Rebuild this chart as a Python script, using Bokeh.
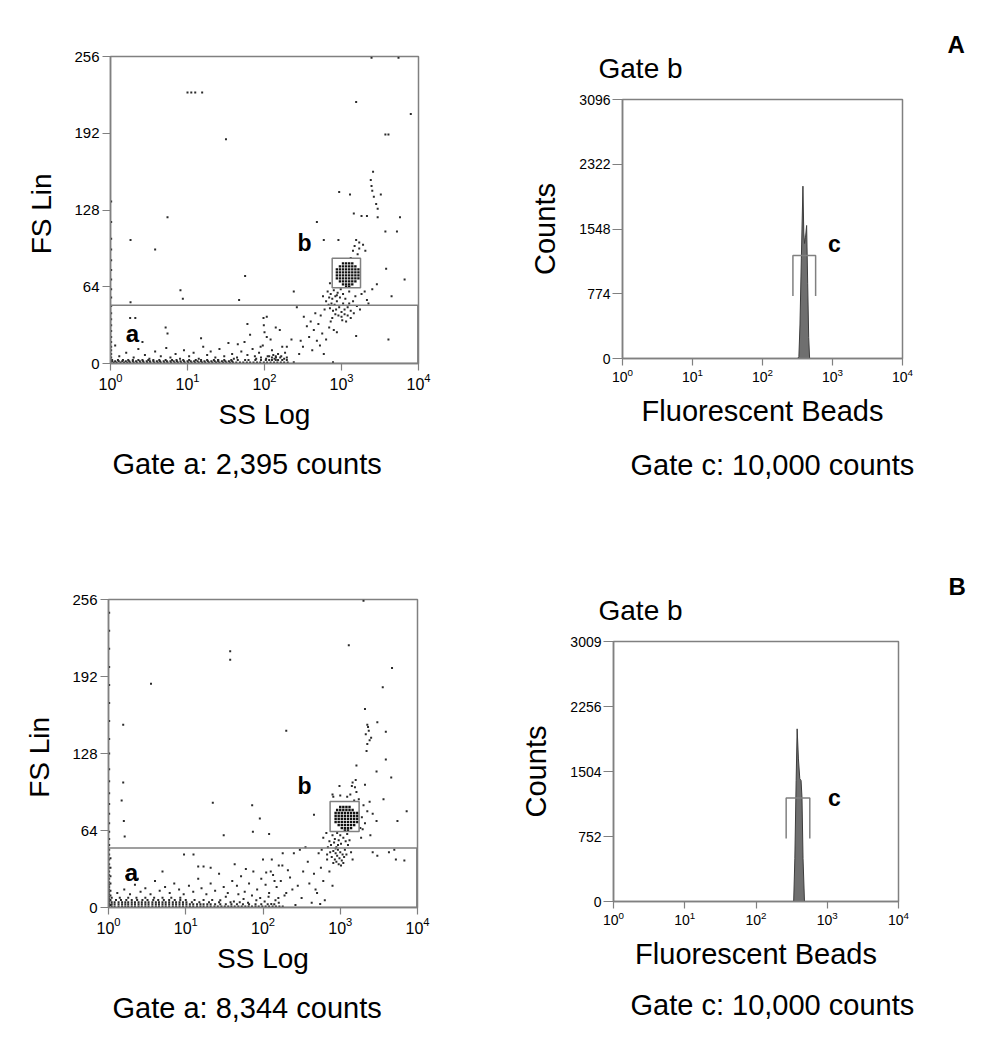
from bokeh.plotting import figure
from bokeh.models import Range1d, FixedTicker, Label, Title
from bokeh.layouts import row, column
from bokeh.embed import file_html
from bokeh.resources import INLINE

FONT = "Liberation Sans"
GRAY = "#808080"
DOT = "#2b2b2b"

# ---------------- axes / ticks ----------------
ss_ticks = [1, 10, 100, 1000, 10000]
fs_ticks = [0, 64, 128, 192, 256]
histA_ticks = [0, 774, 1548, 2322, 3096]
histB_ticks = [0, 752, 1504, 2256, 3009]

# ---------------- panel A scatter (SS, FS) ----------------
A_left_edge = [(1.02, 2), (1.02, 5), (1.02, 8), (1.02, 11), (1.02, 14), (1.02, 18), (1.02, 22),
               (1.02, 27), (1.02, 32), (1.02, 37), (1.02, 42), (1.02, 48), (1.02, 55), (1.02, 62),
               (1.02, 70), (1.02, 78), (1.02, 86), (1.02, 95), (1.02, 104), (1.02, 118), (1.02, 135)]
A_outliers = [(10, 226), (11.2, 226), (12.6, 226), (15.5, 226), (2455, 255), (5500, 255), (1550, 218),
              (7940, 208), (3715, 191), (4070, 191), (31.6, 187),
              (2570, 160), (2400, 153), (2455, 148), (2510, 144), (2630, 139), (3240, 141), (2820, 133),
              (2950, 129), (2140, 123), (2950, 122), (1445, 125), (1820, 123), (933, 143), (1290, 141),
              (5750, 122), (3715, 110), (5250, 110), (479, 118),
              (5.5, 122), (1.82, 103), (3.8, 95), (56, 73), (8.1, 61), (8.7, 54), (1.82, 51), (46.8, 53),
              (240, 60), (912, 103), (589, 103),
              (1550, 103), (1700, 101), (1905, 99), (1480, 98), (1410, 94), (2040, 94), (1700, 96),
              (1620, 91), (1318, 88),
              (3800, 79), (6600, 70), (4470, 56), (2880, 66), (2240, 50), (1550, 23), (4070, 20),
              (2140, 53), (2000, 60), (2510, 62), (708, 67)]
A_below_b = [(661, 60), (724, 58), (794, 61), (692, 55), (759, 54), (832, 56), (891, 59), (631, 52),
             (741, 50), (813, 49), (871, 52), (955, 55), (1047, 58), (1122, 54), (708, 46), (776, 44),
             (851, 45), (933, 47), (1000, 43), (1096, 45), (1202, 47), (1318, 44), (832, 41), (912, 40),
             (1000, 39), (1096, 41), (1202, 40), (1318, 38), (1445, 42), (759, 38), (1023, 36),
             (1148, 35), (1259, 50), (1413, 52), (1585, 48), (1514, 56), (603, 45), (575, 56),
             (1738, 45), (977, 62), (1259, 60), (1820, 58), (680, 49), (870, 57), (1050, 50)]
A_diagonal = [(479, 19), (562, 25), (324, 39), (263, 47), (437, 28), (692, 30), (871, 26), (417, 11),
              (776, 1), (589, 8), (240, 1), (195, 14), (295, 19), (158, 28), (107, 39), (98, 32),
              (107, 22), (89, 14), (141, 5), (195, 3), (355, 31), (380, 22), (501, 33), (525, 15),
              (631, 20), (457, 42), (537, 40), (316, 14), (282, 8), (224, 20), (398, 35), (794, 28),
              (724, 35)]
A_low = [(1.3, 6), (1.6, 9), (2.0, 5), (2.3, 12), (2.8, 7), (3.2, 4), (3.8, 10), (4.5, 6), (5.3, 13),
         (6.0, 5), (7.0, 8), (8.0, 4), (9.0, 11), (10.5, 6), (12, 9), (14, 4), (16, 14), (18, 7),
         (20, 10), (23, 5), (26, 12), (30, 6), (34, 17), (38, 8), (44, 5), (50, 10), (55, 18), (60, 7),
         (70, 12), (78, 4), (85, 9), (95, 15), (110, 6), (125, 11), (135, 4), (150, 8), (170, 14),
         (1.15, 15), (1.8, 20), (5.5, 25), (15, 21), (45, 16), (65, 24), (120, 20), (140, 30),
         (100, 26), (1.8, 38), (2.1, 38), (2.6, 18), (5.2, 30), (60, 33), (97, 38), (25, 3), (40, 4),
         (75, 6), (115, 3), (160, 5), (185, 9), (130, 7), (90, 5), (105, 4), (115, 6), (125, 5),
         (140, 6), (150, 3), (165, 6), (180, 4), (195, 5)]
A_band_fs = [0.8, 1.9, 3.0]
A_band_ss = [
    [1.0, 1.1, 1.2, 1.35, 1.5, 1.65, 1.8, 2.0, 2.2, 2.45, 2.7, 3.0, 3.3, 3.7, 4.1, 4.5, 5.0, 5.5, 6.1,
     6.8, 7.5, 8.3, 9.2, 10.2, 11.3, 12.5, 14, 15.5, 17, 19, 21, 23.5, 26, 29, 32, 35.5, 39, 43, 48,
     53, 59, 65, 72, 80, 88, 98, 108, 120, 133, 147, 163, 180, 200],
    [1.05, 1.15, 1.28, 1.42, 1.58, 1.75, 1.95, 2.15, 2.4, 2.65, 2.95, 3.25, 3.6, 4.0, 4.4, 4.9, 5.4,
     6.0, 6.6, 7.3, 8.1, 9.0, 10, 11, 12.2, 13.5, 15, 16.6, 18.4, 20.4, 22.6, 25, 28, 31, 34.5, 38],
    [1.05, 1.25, 1.45, 1.7, 1.95, 2.3, 2.6, 3.1, 3.6, 4.3, 5.2, 6.3, 7.2, 8.8, 10.5, 12.8, 15, 18, 22,
     25, 30, 37, 45, 56, 62, 76, 90, 104, 125, 140, 170],
]
A_blob_fs = [83.5, 81, 78.5, 76, 73.5, 71, 68.5, 66, 64]
A_blob_ss = [
    [1047, 1148, 1259, 1380],
    [955, 1047, 1148, 1259, 1380, 1514],
    [871, 955, 1047, 1148, 1259, 1380, 1514, 1660],
    [871, 955, 1047, 1148, 1259, 1380, 1514, 1660],
    [871, 955, 1047, 1148, 1259, 1380, 1514, 1660],
    [871, 955, 1047, 1148, 1259, 1380, 1514, 1660],
    [955, 1047, 1148, 1259, 1380, 1514],
    [1047, 1148, 1259, 1380],
    [1148, 1259],
]
A_gate_a = (1, 9800, 0, 48.5)       # left, right, bottom, top
A_gate_b = (757, 1766, 63.1, 87.8)

# ---------------- panel B scatter (SS, FS) ----------------
B_left_edge = [(1.02, 1), (1.02, 3), (1.02, 5), (1.02, 7), (1.02, 9), (1.02, 11), (1.02, 13),
               (1.02, 15), (1.02, 17), (1.02, 19), (1.02, 21), (1.02, 24), (1.02, 27), (1.02, 30),
               (1.02, 33), (1.02, 36), (1.02, 40), (1.02, 44), (1.02, 48), (1.02, 52), (1.02, 57),
               (1.02, 63), (1.02, 70), (1.02, 78), (1.02, 86), (1.02, 95), (1.02, 105), (1.02, 115),
               (1.02, 128), (1.02, 140), (1.02, 155), (1.02, 170), (1.02, 185), (1.02, 200),
               (1.02, 215), (1.02, 230), (1.02, 245),
               (1.06, 2), (1.06, 6), (1.06, 10), (1.06, 14), (1.06, 20), (1.06, 26), (1.06, 33), (1.06, 41)]
B_outliers = [(37.6, 213), (37.6, 206), (3.55, 186), (1290, 218), (4680, 199), (3550, 183), (1.55, 152),
              (200, 147),
              (2090, 165), (2240, 152), (2340, 147), (2140, 144), (2510, 141), (2240, 136), (2190, 130),
              (3020, 154), (3890, 146), (3890, 123), (1620, 118), (2950, 113), (4570, 108), (2290, 150),
              (2400, 139),
              (1.55, 104), (1.48, 89), (1.58, 72), (1.62, 59), (22.4, 87), (72.4, 85), (91, 74), (74, 63),
              (31, 60), (120, 61), (457, 77), (977, 101), (794, 94), (5500, 72), (7240, 80), (3630, 90),
              (2090, 102), (2950, 72), (2455, 60), (1950, 65), (1230, 61), (2630, 46), (3020, 43),
              (5250, 40), (6760, 39), (4270, 46), (5010, 48), (2000, 255),
              (1445, 104), (1550, 100), (1350, 94), (1620, 96), (1514, 89), (1738, 90), (1230, 92),
              (1000, 93), (813, 92), (1585, 106), (1413, 101),
              (2000, 85), (2240, 80), (1905, 75), (2090, 70), (1820, 66), (2400, 88), (2630, 78),
              (1862, 58)]
B_below_b = [(603, 58), (661, 62), (724, 55), (794, 60), (851, 57), (912, 62), (692, 50), (759, 52),
             (832, 54), (891, 50), (955, 56), (1023, 53), (1096, 58), (741, 46), (813, 47), (871, 45),
             (933, 48), (1000, 46), (1072, 44), (1148, 48), (776, 42), (851, 40), (912, 43), (977, 41),
             (1047, 39), (1122, 42), (1202, 44), (813, 37), (891, 38), (955, 36), (1023, 35), (1096, 37),
             (871, 49), (1259, 52), (1380, 46), (1318, 56), (676, 44), (575, 48), (1445, 40), (1000, 60),
             (935, 52), (1175, 55)]
B_diagonal = [(100, 40), (126, 30), (141, 22), (178, 35), (200, 12), (224, 25), (251, 45), (282, 18),
              (316, 8), (331, 30), (380, 38), (398, 20), (427, 4), (457, 28), (501, 12), (525, 45),
              (562, 33), (603, 22), (631, 6), (676, 40), (355, 50), (158, 8), (263, 2), (479, 15),
              (550, 3), (794, 18), (724, 30), (300, 48)]
B_low = [(1.3, 12), (1.6, 15), (1.9, 11), (2.2, 19), (2.6, 13), (3.0, 16), (3.5, 11), (4.0, 22),
         (4.6, 14), (5.4, 17), (6.2, 12), (7.1, 20), (8.2, 15), (9.4, 11), (11, 18), (12.5, 13),
         (14.5, 24), (16, 16), (18.5, 11), (21, 20), (24, 14), (27, 28), (31, 17), (35, 12), (40, 22),
         (46, 18), (52, 26), (58, 13), (66, 20), (75, 30), (84, 15), (95, 24), (108, 19), (120, 12),
         (135, 27), (150, 17), (170, 22), (190, 10), (210, 31), (240, 15), (2.4, 24), (9.5, 44),
         (12.6, 44), (14.5, 34), (17, 34), (21, 33), (43, 36), (60, 32), (110, 29), (28, 6), (33, 9),
         (42, 5), (48, 11), (56, 7), (64, 4), (72, 10), (82, 6), (92, 8), (105, 5), (118, 9), (128, 3),
         (145, 6), (160, 4), (1.7, 26), (5.0, 30), (130, 40), (160, 35), (180, 45)]
B_band_fs = [0.8, 2.6, 4.4, 6.2, 8.2]
B_band_ss = [
    [1.0, 1.1, 1.2, 1.35, 1.5, 1.65, 1.8, 2.0, 2.2, 2.45, 2.7, 3.0, 3.3, 3.7, 4.1, 4.5, 5.0, 5.5, 6.1,
     6.8, 7.5, 8.3, 9.2, 10.2, 11.3, 12.5, 14, 15.5, 17, 19, 21, 23.5, 26, 29, 32, 35.5, 39, 43, 48,
     53, 59, 65, 72, 80, 88, 98, 108, 120, 133, 147, 163, 180],
    [1.0, 1.1, 1.2, 1.35, 1.5, 1.65, 1.8, 2.0, 2.2, 2.45, 2.7, 3.0, 3.3, 3.7, 4.1, 4.5, 5.0, 5.5, 6.1,
     6.8, 7.5, 8.3, 9.2, 10.2, 11.3, 12.5, 14, 15.5, 17, 19, 21, 24, 28, 33, 39, 46, 55, 66, 80, 95,
     115, 140],
    [1.0, 1.1, 1.2, 1.35, 1.5, 1.65, 1.8, 2.0, 2.2, 2.45, 2.7, 3.0, 3.3, 3.7, 4.1, 4.5, 5.0, 5.5, 6.1,
     6.8, 7.5, 8.3, 9.2, 10.2, 12, 15, 20, 27, 38, 50],
    [1.05, 1.25, 1.45, 1.7, 2.0, 2.35, 2.75, 3.2, 3.8, 4.4, 5.2, 6.1, 7.2, 8.5, 10, 13, 17, 22],
    [1.1, 1.4, 1.8, 2.3, 3.0, 3.9, 5.0, 6.5, 8.5],
]
B_blob_fs = [83.5, 81, 78.5, 76, 73.5, 71, 68.5, 66, 64]
B_blob_ss = [
    [1000, 1096, 1202, 1318],
    [912, 1000, 1096, 1202, 1318, 1445],
    [871, 955, 1047, 1148, 1259, 1380, 1514, 1660],
    [871, 955, 1047, 1148, 1259, 1380, 1514, 1660],
    [871, 955, 1047, 1148, 1259, 1380, 1514, 1660],
    [871, 955, 1047, 1148, 1259, 1380, 1514, 1660],
    [955, 1047, 1148, 1259, 1380, 1514],
    [1047, 1148, 1259, 1380],
    [1148, 1259],
]
B_gate_a = (1, 9800, 0, 49.4)
B_gate_b = (739, 1755, 63.2, 88.2)

# ---------------- histograms (fluorescence, counts) ----------------
A_hist_x = [316, 331, 343, 359, 378, 389, 399, 412, 427, 442, 457, 471]
A_hist_counts = [0, 20, 400, 1200, 2060, 1500, 1375, 1450, 1590, 900, 250, 0]
A_gate_c = (272, 574, 748, 1231)    # left, right, bottom, top
B_hist_x = [338, 351, 366, 378, 394, 412, 429, 442, 457, 479]
B_hist_counts = [0, 500, 1400, 1998, 1650, 1420, 1400, 1200, 500, 0]
B_gate_c = (265, 569, 729, 1199)


def add_text(p, x, y, text, size, bold=True):
    p.add_layout(Label(x=x, y=y, x_units="screen", y_units="screen", text=text,
                       text_font=FONT, text_font_size=f"{size}px",
                       text_font_style="bold" if bold else "normal",
                       text_align="center", text_baseline="middle", text_color="black"))


def add_title(p, side, text, size, offset, standoff, bold=False):
    p.add_layout(Title(text=text, align="left", offset=offset, standoff=standoff,
                       text_font=FONT, text_font_size=f"{size}px",
                       text_font_style="bold" if bold else "normal",
                       text_color="black"), side)


def style(p, xsize, ysize, ytick_out, xstand, ystand, xlab_stand, ylab_stand, lab_size):
    p.xgrid.visible = False
    p.ygrid.visible = False
    p.outline_line_color = GRAY
    p.outline_line_width = 1.5
    p.background_fill_color = "white"
    p.border_fill_color = "white"
    for ax in p.axis:
        ax.axis_line_color = GRAY
        ax.axis_line_width = 1.5
        ax.major_tick_line_color = GRAY
        ax.major_tick_line_width = 1.2
        ax.minor_tick_line_color = None
        ax.major_tick_in = 0
        ax.major_label_text_font = FONT
        ax.major_label_text_color = "black"
        ax.axis_label_text_font = FONT
        ax.axis_label_text_font_style = "normal"
        ax.axis_label_text_color = "black"
        ax.axis_label_text_font_size = f"{lab_size}px"
    p.xaxis.major_tick_out = 7
    p.yaxis.major_tick_out = ytick_out
    p.xaxis.major_label_text_font_size = f"{xsize}px"
    p.yaxis.major_label_text_font_size = f"{ysize}px"
    p.xaxis.major_label_standoff = xstand
    p.yaxis.major_label_standoff = ystand
    p.xaxis.axis_label_standoff = xlab_stand
    p.yaxis.axis_label_standoff = ylab_stand


def scatter_panel(width, height, borders, groups, band_fs, band_ss, blob_fs, blob_ss,
                  gate_a, gate_b, labels, gate_text, gate_off, gate_stand):
    l, r, t, b = borders
    p = figure(width=width, height=height, x_axis_type="log", title=None,
               x_range=Range1d(1, 10000), y_range=Range1d(0, 256),
               output_backend="svg", toolbar_location=None,
               min_border_left=l, min_border_right=r, min_border_top=t, min_border_bottom=b,
               x_axis_label="SS Log", y_axis_label="FS  Lin")
    p.frame_align = False
    p.xaxis.ticker = FixedTicker(ticks=ss_ticks)
    p.yaxis.ticker = FixedTicker(ticks=fs_ticks)
    style(p, 16, 15, 8, 2, 3, 6, 14, 28)
    xs, ys = [], []
    for g in groups:
        xs += [e[0] for e in g]
        ys += [e[1] for e in g]
    for fsv, row_ss in zip(band_fs, band_ss):
        xs += row_ss
        ys += [fsv] * len(row_ss)
    p.scatter(xs, ys, marker="square", size=2, color=DOT, line_width=0)
    bx, by = [], []
    for fsv, row_ss in zip(blob_fs, blob_ss):
        bx += row_ss
        by += [fsv] * len(row_ss)
    p.scatter(bx, by, marker="square", size=2.4, color="#111111", line_width=0)
    for g in (gate_a, gate_b):
        p.quad(left=[g[0]], right=[g[1]], bottom=[g[2]], top=[g[3]],
               fill_alpha=0, line_color=GRAY, line_width=1.5)
    for tx in labels:
        add_text(p, *tx)
    add_title(p, "below", gate_text, 29, gate_off, gate_stand)
    return p


def hist_panel(width, height, borders, yticks, hx, hc, gate_c, labels,
               gate_b_off, gate_b_stand, letter, letter_off, letter_stand,
               gate_text, gate_off, gate_stand):
    l, r, t, b = borders
    p = figure(width=width, height=height, x_axis_type="log", title=None,
               x_range=Range1d(1, 10000), y_range=Range1d(0, yticks[-1]),
               output_backend="svg", toolbar_location=None,
               min_border_left=l, min_border_right=r, min_border_top=t, min_border_bottom=b,
               x_axis_label="Fluorescent Beads", y_axis_label="Counts")
    p.frame_align = False
    p.xaxis.ticker = FixedTicker(ticks=ss_ticks)
    p.yaxis.ticker = FixedTicker(ticks=yticks)
    style(p, 14, 14, 10, 2, 2, 10, 15, 29)
    p.patch(hx, hc, fill_color="#6f6f6f", line_color="#3c3c3c", line_width=1)
    x0, x1, y0, y1 = gate_c
    p.multi_line(xs=[[x0, x0, x1, x1]], ys=[[y0, y1, y1, y0]], line_color=GRAY, line_width=1.5)
    for tx in labels:
        add_text(p, *tx)
    add_title(p, "above", "Gate b", 28, gate_b_off, gate_b_stand)
    add_title(p, "above", letter, 24, letter_off, letter_stand, bold=True)
    add_title(p, "below", gate_text, 29, gate_off, gate_stand)
    return p


pA = scatter_panel(498, 565, (110, 80, 56, 202),
                   [A_left_edge, A_outliers, A_below_b, A_diagonal, A_low],
                   A_band_fs, A_band_ss, A_blob_fs, A_blob_ss, A_gate_a, A_gate_b,
                   [(22, 30, "a", 24), (194, 121, "b", 23)],
                   "Gate a:  2,395 counts", 2, 27)
hA = hist_panel(500, 565, (124, 96, 99, 207), histA_ticks, A_hist_x, A_hist_counts, A_gate_c,
                [(212, 115, "c", 23)],
                -24, 32, "A", 325, -46,
                "Gate c: 10,000 counts", 8, 35)
pB = scatter_panel(498, 480, (108, 81, 34, 138),
                   [B_left_edge, B_outliers, B_below_b, B_diagonal, B_low],
                   B_band_fs, B_band_ss, B_blob_fs, B_blob_ss, B_gate_a, B_gate_b,
                   [(23, 35, "a", 24), (196, 122, "b", 23)],
                   "Gate a:  8,344 counts", 4, 27)
hB = hist_panel(500, 480, (115, 100, 76, 144), histB_ticks, B_hist_x, B_hist_counts, B_gate_c,
                [(221, 104, "c", 23)],
                -15, 32, "B", 335, -46,
                "Gate c: 10,000 counts", 17, 29)

layout = column(row(pA, hA), row(pB, hB))
open("out.html", "w").write(file_html(layout, INLINE))
